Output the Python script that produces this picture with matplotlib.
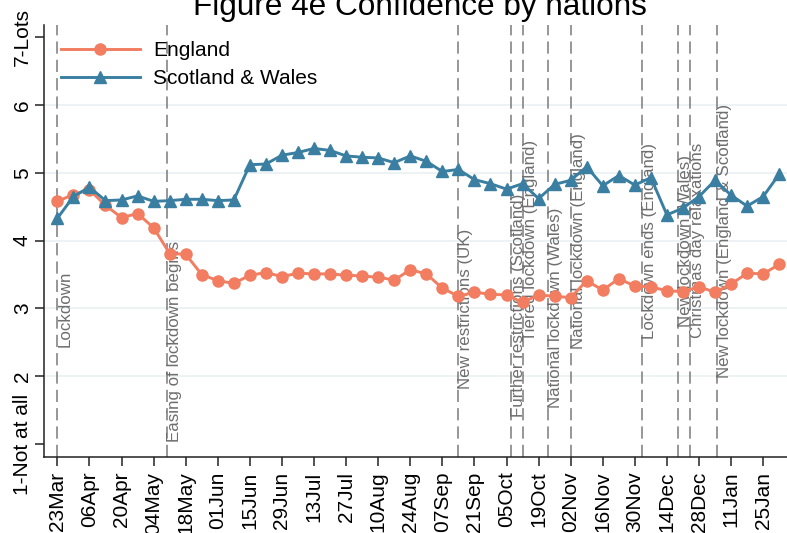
import numpy as np
import pandas as pd
import matplotlib
matplotlib.use("Agg")
import matplotlib.pyplot as plt
import matplotlib.dates as mdates

plt.rcParams['font.family'] = ['Liberation Sans', 'DejaVu Sans']

# weekly survey waves, 23 Mar 2020 - 01 Feb 2021
weeks = pd.date_range("2020-03-23", "2021-02-01", freq="7D")

england = [4.58, 4.68, 4.75, 4.52, 4.34, 4.40, 4.19, 3.81, 3.80, 3.50,
           3.41, 3.37, 3.49, 3.53, 3.47, 3.52, 3.51, 3.51, 3.49, 3.48,
           3.46, 3.42, 3.57, 3.51, 3.30, 3.18, 3.24, 3.21, 3.20, 3.09,
           3.20, 3.18, 3.16, 3.41, 3.27, 3.44, 3.33, 3.32, 3.26, 3.25,
           3.32, 3.24, 3.36, 3.52, 3.51, 3.65]

scot_wales = [4.33, 4.65, 4.79, 4.59, 4.60, 4.66, 4.58, 4.59, 4.61, 4.61,
              4.59, 4.60, 5.12, 5.13, 5.26, 5.30, 5.36, 5.33, 5.25, 5.23,
              5.22, 5.15, 5.25, 5.17, 5.02, 5.05, 4.90, 4.84, 4.76, 4.84,
              4.62, 4.83, 4.89, 5.09, 4.81, 4.96, 4.82, 4.93, 4.38, 4.48,
              4.65, 4.89, 4.67, 4.51, 4.65, 4.98]

# policy events: date, label, y position of label centre
event_dates = ["2020-03-23", "2020-05-10", "2020-09-14", "2020-10-07",
               "2020-10-12", "2020-10-23", "2020-11-02", "2020-12-03",
               "2020-12-19", "2020-12-24", "2021-01-05"]
event_labels = ["Lockdown", "Easing of lockdown begins", "New restrictions (UK)",
                "Further restrictions (Scotland)", "Tiered lockdown (England)",
                "National lockdown (Wales)", "National lockdown (England)",
                "Lockdown ends (England)", "New lockdown (Wales)",
                "Christmas day relaxations", "New lockdown (England & Scotland)"]
event_label_y = [3.0, 2.51, 3.0, 3.05, 4.0, 3.01, 4.0, 4.0, 4.0, 4.0, 4.0]

ytick_vals = [1, 2, 3, 4, 5, 6, 7]
ytick_labels = ["1-Not at all", "2", "3", "4", "5", "6", "7-Lots"]
xtick_dates = pd.date_range("2020-03-23", "2021-01-25", freq="14D")

c_eng = "#f27d60"
c_sw = "#3a7fa1"

W, H = 787, 533
fig = plt.figure(figsize=(W / 100, H / 100), dpi=100)
ax = fig.add_axes([44.3 / W, 1 - 457 / H, (W - 44.3) / W, (457 - 25) / H])

for g in [2, 3, 4, 5, 6]:
    ax.axhline(g, color="#eaf1f3", lw=1.2, zorder=0)

for d, lab, yy in zip(event_dates, event_labels, event_label_y):
    xd = pd.Timestamp(d)
    ax.axvline(xd, color="#7a7a7a", lw=1.1, linestyle=(0, (8, 4)), zorder=1)
    ax.text(xd, yy, lab, rotation=90, ha="left", va="center",
            fontsize=12.2, color="#6e6e6e", zorder=2)

ax.plot(weeks, england, color=c_eng, lw=2.1, marker="o", markersize=8,
        label="England", zorder=3)
ax.plot(weeks, scot_wales, color=c_sw, lw=2.1, marker="^", markersize=8,
        label="Scotland & Wales", zorder=3)

ax.set_ylim(0.81, 7.18)
ax.set_xlim(pd.Timestamp("2020-03-23") - pd.Timedelta(days=5.7),
            pd.Timestamp("2021-01-25") + pd.Timedelta(days=10.4))

ax.set_yticks(ytick_vals)
ax.set_yticklabels(ytick_labels, rotation=90, va="center", fontsize=15)
ax.set_xticks(xtick_dates)
ax.xaxis.set_major_formatter(mdates.DateFormatter("%d%b"))
plt.setp(ax.get_xticklabels(), rotation=90, fontsize=15)

ax.tick_params(axis="both", length=6.5, width=1.1, color="#222222")
ax.tick_params(axis="y", pad=2.5)
ax.tick_params(axis="x", pad=4)

for s in ["top", "right"]:
    ax.spines[s].set_visible(False)
for s in ["left", "bottom"]:
    ax.spines[s].set_linewidth(1.1)
    ax.spines[s].set_color("#222222")

ax.legend(loc="upper left", bbox_to_anchor=(60.7 / W, 1 - 41 / H),
          bbox_transform=fig.transFigure, frameon=False, fontsize=15,
          borderpad=0, borderaxespad=0, handlelength=3.8,
          handletextpad=0.62, labelspacing=0.45)

fig.text(420 / W, 1 - 15 / H, "Figure 4e Confidence by nations",
         ha="center", va="baseline", fontsize=22.7)

fig.savefig("out.png", dpi=100)
